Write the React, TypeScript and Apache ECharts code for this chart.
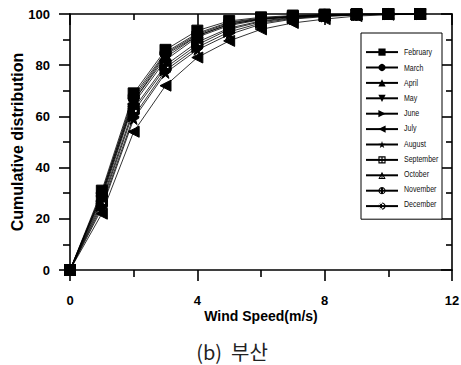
import React, { useEffect, useRef } from "react";
import * as echarts from "echarts";

const windSpeed = [0, 1, 2, 3, 4, 5, 6, 7, 8, 9, 10, 11];
const months = ["February", "March", "April", "May", "June", "July", "August", "September", "October", "November", "December"];
const february = [0, 31, 69, 86, 93.5, 97.3, 98.7, 99.4, 99.8, 100, 100, 100];
const march = [0, 30, 68, 85, 92.5, 96.8, 98.4, 99.2, 99.7, 99.9, 100, 100];
const april = [0, 29, 66, 83, 91.5, 96, 98, 99, 99.5, 99.9, 100, 100];
const may = [0, 28, 65, 82, 91, 95.5, 97.8, 98.9, 99.5, 99.8, 100, 100];
const june = [0, 25, 60, 78, 87, 93, 96.5, 98.3, 99.2, 99.7, 99.9, 100];
const july = [0, 22, 54, 72, 83, 89.5, 94, 96.5, 98, 99.2, 99.7, 100];
const august = [0, 24, 59, 77, 86, 92, 96, 98, 99, 99.6, 99.9, 100];
const september = [0, 27, 63, 80, 89, 94.5, 97.3, 98.7, 99.4, 99.8, 100, 100];
const october = [0, 29, 66, 84, 91.5, 96, 98, 99, 99.6, 99.9, 100, 100];
const november = [0, 30, 67, 84.5, 92, 96.5, 98.2, 99.1, 99.6, 99.9, 100, 100];
const december = [0, 26, 62, 79, 88, 94, 97, 98.5, 99.3, 99.8, 100, 100];
const seriesValues = [february, march, april, may, june, july, august, september, october, november, december];
const xTicks = [0, 4, 8, 12];
const yTicks = [0, 20, 40, 60, 80, 100];

const STAR = "path://M5,0L6.18,3.6L10,3.6L6.9,5.9L8.1,9.5L5,7.3L1.9,9.5L3.1,5.9L0,3.6L3.82,3.6Z";
const SQ_CROSS = "path://M0,0H10V1.6H0Z M0,8.4H10V10H0Z M0,0H1.6V10H0Z M8.4,0H10V10H8.4Z M4.2,0H5.8V10H4.2Z M0,4.2H10V5.8H0Z";
const TRI_OPEN = "path://M5,0L10,10H0Z M5,3.2L2.3,8.6H7.7Z M4.3,1H5.7V9.5H4.3Z";
const CIRC_BAR = "path://M5,0A5,5,0,1,1,4.99,0Z M5,1.5A3.5,3.5,0,1,0,5.01,1.5Z M3.6,0.5H6.4V9.5H3.6Z";
const CIRC_HALF = "path://M5,0A5,5,0,1,1,4.99,0Z M5,1.5A3.5,3.5,0,1,0,5.01,1.5Z M5,0A5,5,0,0,0,5,10Z";

const symbols: [string, number][] = [
  ["rect", 0],
  ["circle", 0],
  ["triangle", 0],
  ["triangle", 180],
  ["triangle", -90],
  ["triangle", 90],
  [STAR, 0],
  [SQ_CROSS, 0],
  [TRI_OPEN, 0],
  [CIRC_BAR, 0],
  [CIRC_HALF, 0],
];

const boldFont = "Liberation Sans, Arial, sans-serif";

// legend geometry
const LEG_LEFT = 361;
const LEG_TOP = 33;
const FIRST_ITEM_Y = 52;
const ITEM_PITCH = 15.2;

export default function App() {
  const ref = useRef<HTMLDivElement>(null);
  useEffect(() => {
    document.body.style.margin = "0";
    const chart = echarts.init(ref.current!, null, { renderer: "svg" });
    const axisCommon = {
      type: "value" as const,
      axisLine: { show: true, onZero: false, lineStyle: { color: "#000", width: 1.6 } },
      splitLine: { show: false },
      minorSplitLine: { show: false },
    };
    const legendTexts = months.map((m, i) => ({
      type: "text",
      x: 404,
      y: FIRST_ITEM_Y + i * ITEM_PITCH,
      scaleX: 0.74,
      z: 100,
      style: {
        text: m,
        fontFamily: "Liberation Sans, Arial, sans-serif",
        fontSize: 9.5,
        fill: "#111",
        textAlign: "left",
        textVerticalAlign: "middle",
      },
    }));
    chart.setOption({
      animation: false,
      backgroundColor: "#fff",
      grid: { left: 70, right: 9, top: 14, bottom: 95, containLabel: false, outerBoundsMode: "none" },
      legend: {
        orient: "vertical",
        left: LEG_LEFT,
        top: LEG_TOP,
        data: months,
        itemWidth: 32,
        itemHeight: 9,
        itemGap: 8.2,
        formatter: () => "",
        padding: [15.5, 39, 9.5, 4],
        borderColor: "#000",
        borderWidth: 1,
        borderRadius: 0,
        backgroundColor: "#fff",
        textStyle: { fontSize: 9, lineHeight: 9, color: "#111" },
      },
      xAxis: [
        {
          ...axisCommon,
          position: "bottom",
          min: 0,
          max: 12,
          interval: 4,
          axisTick: { show: true, inside: false, length: 11, lineStyle: { color: "#000", width: 1.6 } },
          minorTick: { show: true, splitNumber: 2, length: 7, lineStyle: { color: "#000", width: 1.6 } },
          axisLabel: {
            margin: 24,
            fontFamily: boldFont,
            fontWeight: "bold",
            fontSize: 13,
            color: "#000",
            formatter: (v: number) => (xTicks.includes(v) ? String(v) : ""),
          },
          name: "Wind Speed(m/s)",
          nameLocation: "middle",
          nameGap: 39,
          nameMoveOverlap: false,
          nameTextStyle: { fontFamily: boldFont, fontWeight: "bold", fontSize: 14, color: "#000" },
        },
        {
          ...axisCommon,
          position: "top",
          min: 0,
          max: 12,
          interval: 4,
          axisTick: { show: true, inside: true, length: 11, lineStyle: { color: "#000", width: 1.6 } },
          minorTick: { show: true, splitNumber: 2, length: 6, lineStyle: { color: "#000", width: 1.6 } },
          axisLabel: { show: false },
        },
      ],
      yAxis: [
        {
          ...axisCommon,
          position: "left",
          min: 0,
          max: 100,
          interval: 20,
          axisTick: { show: true, inside: false, length: 11, lineStyle: { color: "#000", width: 1.6 } },
          minorTick: { show: true, splitNumber: 2, length: 7, lineStyle: { color: "#000", width: 1.6 } },
          axisLabel: {
            margin: 20,
            fontFamily: boldFont,
            fontWeight: "bold",
            fontSize: 13,
            color: "#000",
            formatter: (v: number) => (yTicks.includes(v) ? String(v) : ""),
          },
          name: "Cumulative distribution",
          nameLocation: "middle",
          nameGap: 45,
          nameMoveOverlap: false,
          nameTextStyle: { fontFamily: boldFont, fontWeight: "bold", fontSize: 16, color: "#000" },
        },
        {
          ...axisCommon,
          position: "right",
          min: 0,
          max: 100,
          interval: 20,
          axisTick: { show: true, inside: true, length: 11, lineStyle: { color: "#000", width: 1.6 } },
          minorTick: { show: true, splitNumber: 2, length: 6, lineStyle: { color: "#000", width: 1.6 } },
          axisLabel: { show: false },
        },
      ],
      series: months.map((m, i) => ({
        name: m,
        type: "line",
        xAxisIndex: 0,
        yAxisIndex: 0,
        z: 20 - i,
        data: windSpeed.map((x, j) => [x, seriesValues[i][j]]),
        symbol: symbols[i][0],
        symbolRotate: symbols[i][1],
        symbolSize: 11,
        showAllSymbol: true,
        lineStyle: { color: "#000", width: 0.8 },
        itemStyle: { color: "#000", borderColor: "#000" },
        emphasis: { disabled: true },
      })),
      graphic: [
        ...legendTexts,
        {
          type: "text",
          x: 232,
          y: 351,
          style: {
            text: "(b)  부산",
            fontFamily: "Noto Sans CJK KR, sans-serif",
            fontSize: 20,
            fill: "#222",
            textAlign: "center",
            textVerticalAlign: "middle",
          },
        },
      ],
    });
    return () => chart.dispose();
  }, []);
  return <div ref={ref} style={{ width: 461, height: 365 }} />;
}
